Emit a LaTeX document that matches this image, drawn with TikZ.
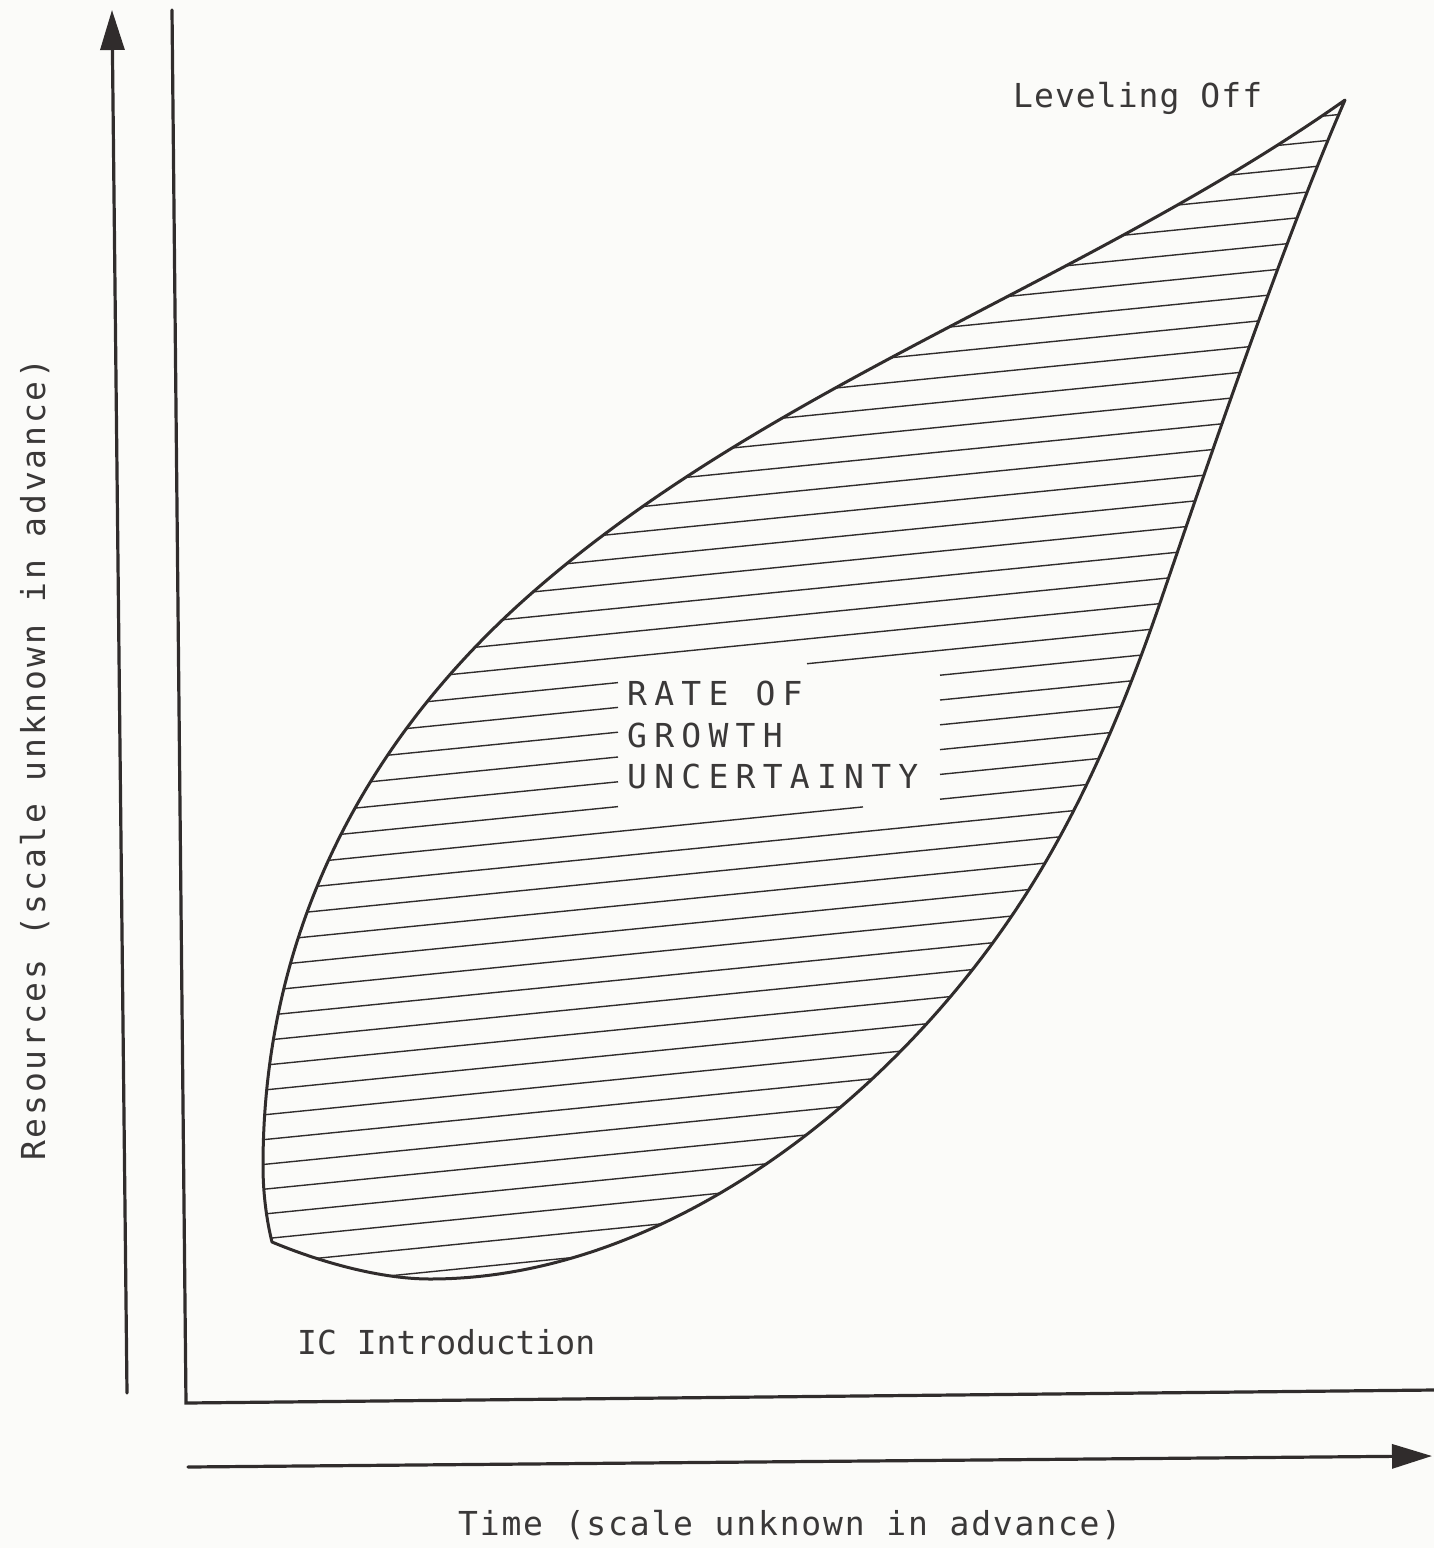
\documentclass[tikz,border=0pt]{standalone}
\usepackage{fontspec}
\newfontfamily\lgfont{DejaVu Sans Mono}
\usetikzlibrary{arrows.meta}
\definecolor{ink}{RGB}{48,44,44}
\definecolor{textink}{RGB}{58,56,56}
\definecolor{paper}{RGB}{251,251,249}
\tikzset{
  axisline/.style={draw=ink, line width=3.2pt, line cap=round, line join=miter},
  axisarrow/.style={axisline, -{Triangle[length=40pt,width=24pt]}},
  outline/.style={draw=ink, line width=3pt, line join=round},
  hatch/.style={draw=ink, line width=1.4pt},
  lab/.style={inner sep=0pt, text=textink, font={\lgfont\fontsize{33}{40}\selectfont}},
  lspace/.style={font={\lgfont\fontsize{33}{40}\selectfont\addfontfeatures{LetterSpace=#1}}},
}
\begin{document}
\begin{tikzpicture}[x=1pt, y=-1pt]
\useasboundingbox (0,0) rectangle (1434,1548);
\fill[paper] (0,0) rectangle (1434,1548);

% axes
\coordinate (ybot) at (127,1393);
\coordinate (ytop) at (112,10);
\coordinate (ltop) at (172,10);
\coordinate (lcorner) at (186,1403);
\coordinate (lright) at (1434,1390);
\coordinate (tleft) at (188,1467);
\coordinate (tright) at (1432,1456);
\draw[axisarrow] (ybot) -- (ytop);
\draw[axisline] (ltop) -- (lcorner) -- (lright);
\draw[axisarrow] (tleft) -- (tright);

% leaf outline
\coordinate (tip) at (1345,100);
\coordinate (corner) at (272,1242);
\path[save path=\leafpath]
  (tip) .. controls (1087,282) and (771,384) .. (533,592)
        .. controls (367,737) and (263,930) .. (263,1166)
        .. controls (263,1195) and (267,1222) .. (corner)
        .. controls (320,1262) and (380,1279) .. (430,1279)
        .. controls (660,1279) and (882,1107) .. (1011,917)
        .. controls (1076.8,820.2) and (1123.1,710.7) .. (1161,600)
        .. controls (1209.6,458) and (1285,237.5) .. (tip)
  -- cycle;

% hatching
\begin{scope}
  \clip[use path=\leafpath];
  \foreach \k in {-2,...,15,23,24,...,45} {
    \draw[hatch] (250,{1230-24.8*\k+35}) -- (1360,{1230-24.8*\k-76});
  }
  \foreach \k/\ga/\gb in {16/863/940, 17/618/940, 18/618/940, 19/618/940,
                          20/618/940, 21/618/940, 22/618/807} {
    \draw[hatch] (250,{1230-24.8*\k+35}) -- (\ga,{1230-24.8*\k-0.1*(\ga-600)});
    \draw[hatch] (\gb,{1230-24.8*\k-0.1*(\gb-600)}) -- (1360,{1230-24.8*\k-76});
  }
\end{scope}
\draw[outline, use path=\leafpath];

% labels
\node[lab, anchor=base west, lspace=3.2] (lev) at (1013,107) {Leveling Off};
\node[lab, anchor=base west] (ic) at (297,1354) {IC Introduction};
\node[lab, anchor=base west, lspace=5.5] (time) at (458,1535) {Time (scale unknown in advance)};
\node[lab, anchor=base west, rotate=90, lspace=8.5] (res) at (45,1161) {Resources (scale unknown in advance)};
\node[lab, anchor=base west, lspace=22] (rate) at (627,705) {RATE OF};
\node[lab, anchor=base west, lspace=22] (growth) at (627,747) {GROWTH};
\node[lab, anchor=base west, lspace=22] (uncert) at (627,788) {UNCERTAINTY};
\end{tikzpicture}
\end{document}
